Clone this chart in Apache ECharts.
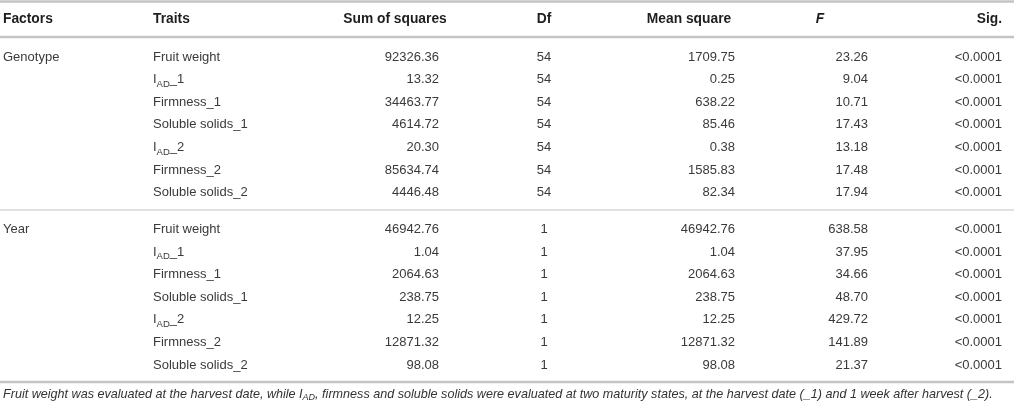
<!DOCTYPE html>
<html>
<head>
<meta charset="utf-8">
<script src="https://cdn.jsdelivr.net/npm/echarts@6/dist/echarts.min.js"></script>
<style>
  html, body { margin: 0; padding: 0; background: #fff; }
  #chart { width: 1014px; height: 406px; }
</style>
</head>
<body>
<div id="chart"></div>
<script>
const headers = ['Factors', 'Traits', 'Sum of squares', 'Df', 'Mean square', 'F', 'Sig.'];
const factors = ['Genotype', 'Year'];
const traits = ['Fruit weight', 'IAD_1', 'Firmness_1', 'Soluble solids_1', 'IAD_2', 'Firmness_2', 'Soluble solids_2'];

const genotypeSS = [92326.36, 13.32, 34463.77, 4614.72, 20.30, 85634.74, 4446.48];
const genotypeDf = [54, 54, 54, 54, 54, 54, 54];
const genotypeMS = [1709.75, 0.25, 638.22, 85.46, 0.38, 1585.83, 82.34];
const genotypeF = [23.26, 9.04, 10.71, 17.43, 13.18, 17.48, 17.94];

const yearSS = [46942.76, 1.04, 2064.63, 238.75, 12.25, 12871.32, 98.08];
const yearDf = [1, 1, 1, 1, 1, 1, 1];
const yearMS = [46942.76, 1.04, 2064.63, 238.75, 12.25, 12871.32, 98.08];
const yearF = [638.58, 37.95, 34.66, 48.70, 429.72, 141.89, 21.37];

const sigLabel = '<0.0001';
const footnote = 'Fruit weight was evaluated at the harvest date, while I{s|AD}, firmness and soluble solids were evaluated at two maturity states, at the harvest date (_1) and 1 week after harvest (_2).';

// layout of the columns (pixel anchors)
const colX = [3, 153, 439, 544, 735, 868, 1002];
const colAlign = ['left', 'left', 'right', 'center', 'right', 'right', 'right'];
const headX = [3, 153, 395, 544, 689, 820, 1002];
const headAlign = ['left', 'left', 'center', 'center', 'center', 'center', 'right'];

const FONT = '"Liberation Sans", Arial, Helvetica, sans-serif';
const TEXT_COLOR = '#3a3a3a';
const RULE = '#c4c4c4';

const groupGap = 0.63;
const groups = [
  { ss: genotypeSS, df: genotypeDf, ms: genotypeMS, f: genotypeF },
  { ss: yearSS, df: yearDf, ms: yearMS, f: yearF }
];

const rows = [];
groups.forEach((g, gi) => {
  traits.forEach((t, ti) => {
    const pos = gi * traits.length + ti + gi * groupGap;
    rows.push([
      pos,
      ti === 0 ? factors[gi] : '',
      t,
      g.ss[ti].toFixed(2),
      String(g.df[ti]),
      g.ms[ti].toFixed(2),
      g.f[ti].toFixed(2),
      sigLabel
    ]);
  });
});

const traitRich = (t) => t.indexOf('IAD') === 0 ? '{m|I}{s|AD}{m|' + t.slice(3) + '}' : t;

const richStyles = {
  m: { fontSize: 13, fontFamily: FONT, color: TEXT_COLOR, lineHeight: 19 },
  s: { fontSize: 9.5, fontFamily: FONT, color: TEXT_COLOR, lineHeight: 10, verticalAlign: 'bottom' }
};

const chart = echarts.init(document.getElementById('chart'));

const hline = (y, w) => ({
  type: 'line',
  shape: { x1: 0, y1: y, x2: 1014, y2: y },
  style: { stroke: RULE, lineWidth: w },
  silent: true
});

const headerTexts = headers.map((h, i) => ({
  type: 'text',
  x: headX[i],
  y: 19,
  style: {
    text: h,
    fontSize: 13.8,
    fontFamily: FONT,
    fontWeight: 'bold',
    fontStyle: h === 'F' ? 'italic' : 'normal',
    fill: '#1e1e1e',
    align: headAlign[i],
    verticalAlign: 'middle'
  }
}));

chart.setOption({
  animation: false,
  grid: { left: 0, right: 0, top: 57, bottom: 41 },
  xAxis: { type: 'value', min: 0, max: 1014, show: false },
  yAxis: { type: 'value', min: 0, max: 13 + groupGap, inverse: true, show: false },
  graphic: [
    hline(1.5, 2.5),
    hline(37, 2.5),
    hline(210, 1.2),
    hline(382, 2.5),
    ...headerTexts,
    {
      type: 'text',
      x: 3,
      y: 394,
      style: {
        text: footnote,
        fontSize: 12.6,
        fontFamily: FONT,
        fontStyle: 'italic',
        fill: '#333',
        lineHeight: 16,
        align: 'left',
        verticalAlign: 'middle',
        rich: {
          s: { fontSize: 9, fontFamily: FONT, fontStyle: 'italic', color: '#333', lineHeight: 9, verticalAlign: 'bottom' }
        }
      }
    }
  ],
  series: [{
    type: 'custom',
    coordinateSystem: 'cartesian2d',
    encode: { y: 0 },
    data: rows,
    renderItem: (params, api) => {
      const pos = api.value(0);
      const row = rows[params.dataIndex];
      const children = [];
      for (let c = 0; c < colX.length; c++) {
        const txt = row[c + 1];
        if (!txt) continue;
        const pt = api.coord([colX[c], pos]);
        const isTrait = c === 1;
        children.push({
          type: 'text',
          x: pt[0],
          y: pt[1],
          style: {
            text: isTrait ? traitRich(txt) : txt,
            rich: isTrait ? richStyles : undefined,
            fontSize: 13,
            fontFamily: FONT,
            fill: TEXT_COLOR,
            align: colAlign[c],
            verticalAlign: 'middle'
          }
        });
      }
      return { type: 'group', children: children };
    }
  }]
});
</script>
</body>
</html>
